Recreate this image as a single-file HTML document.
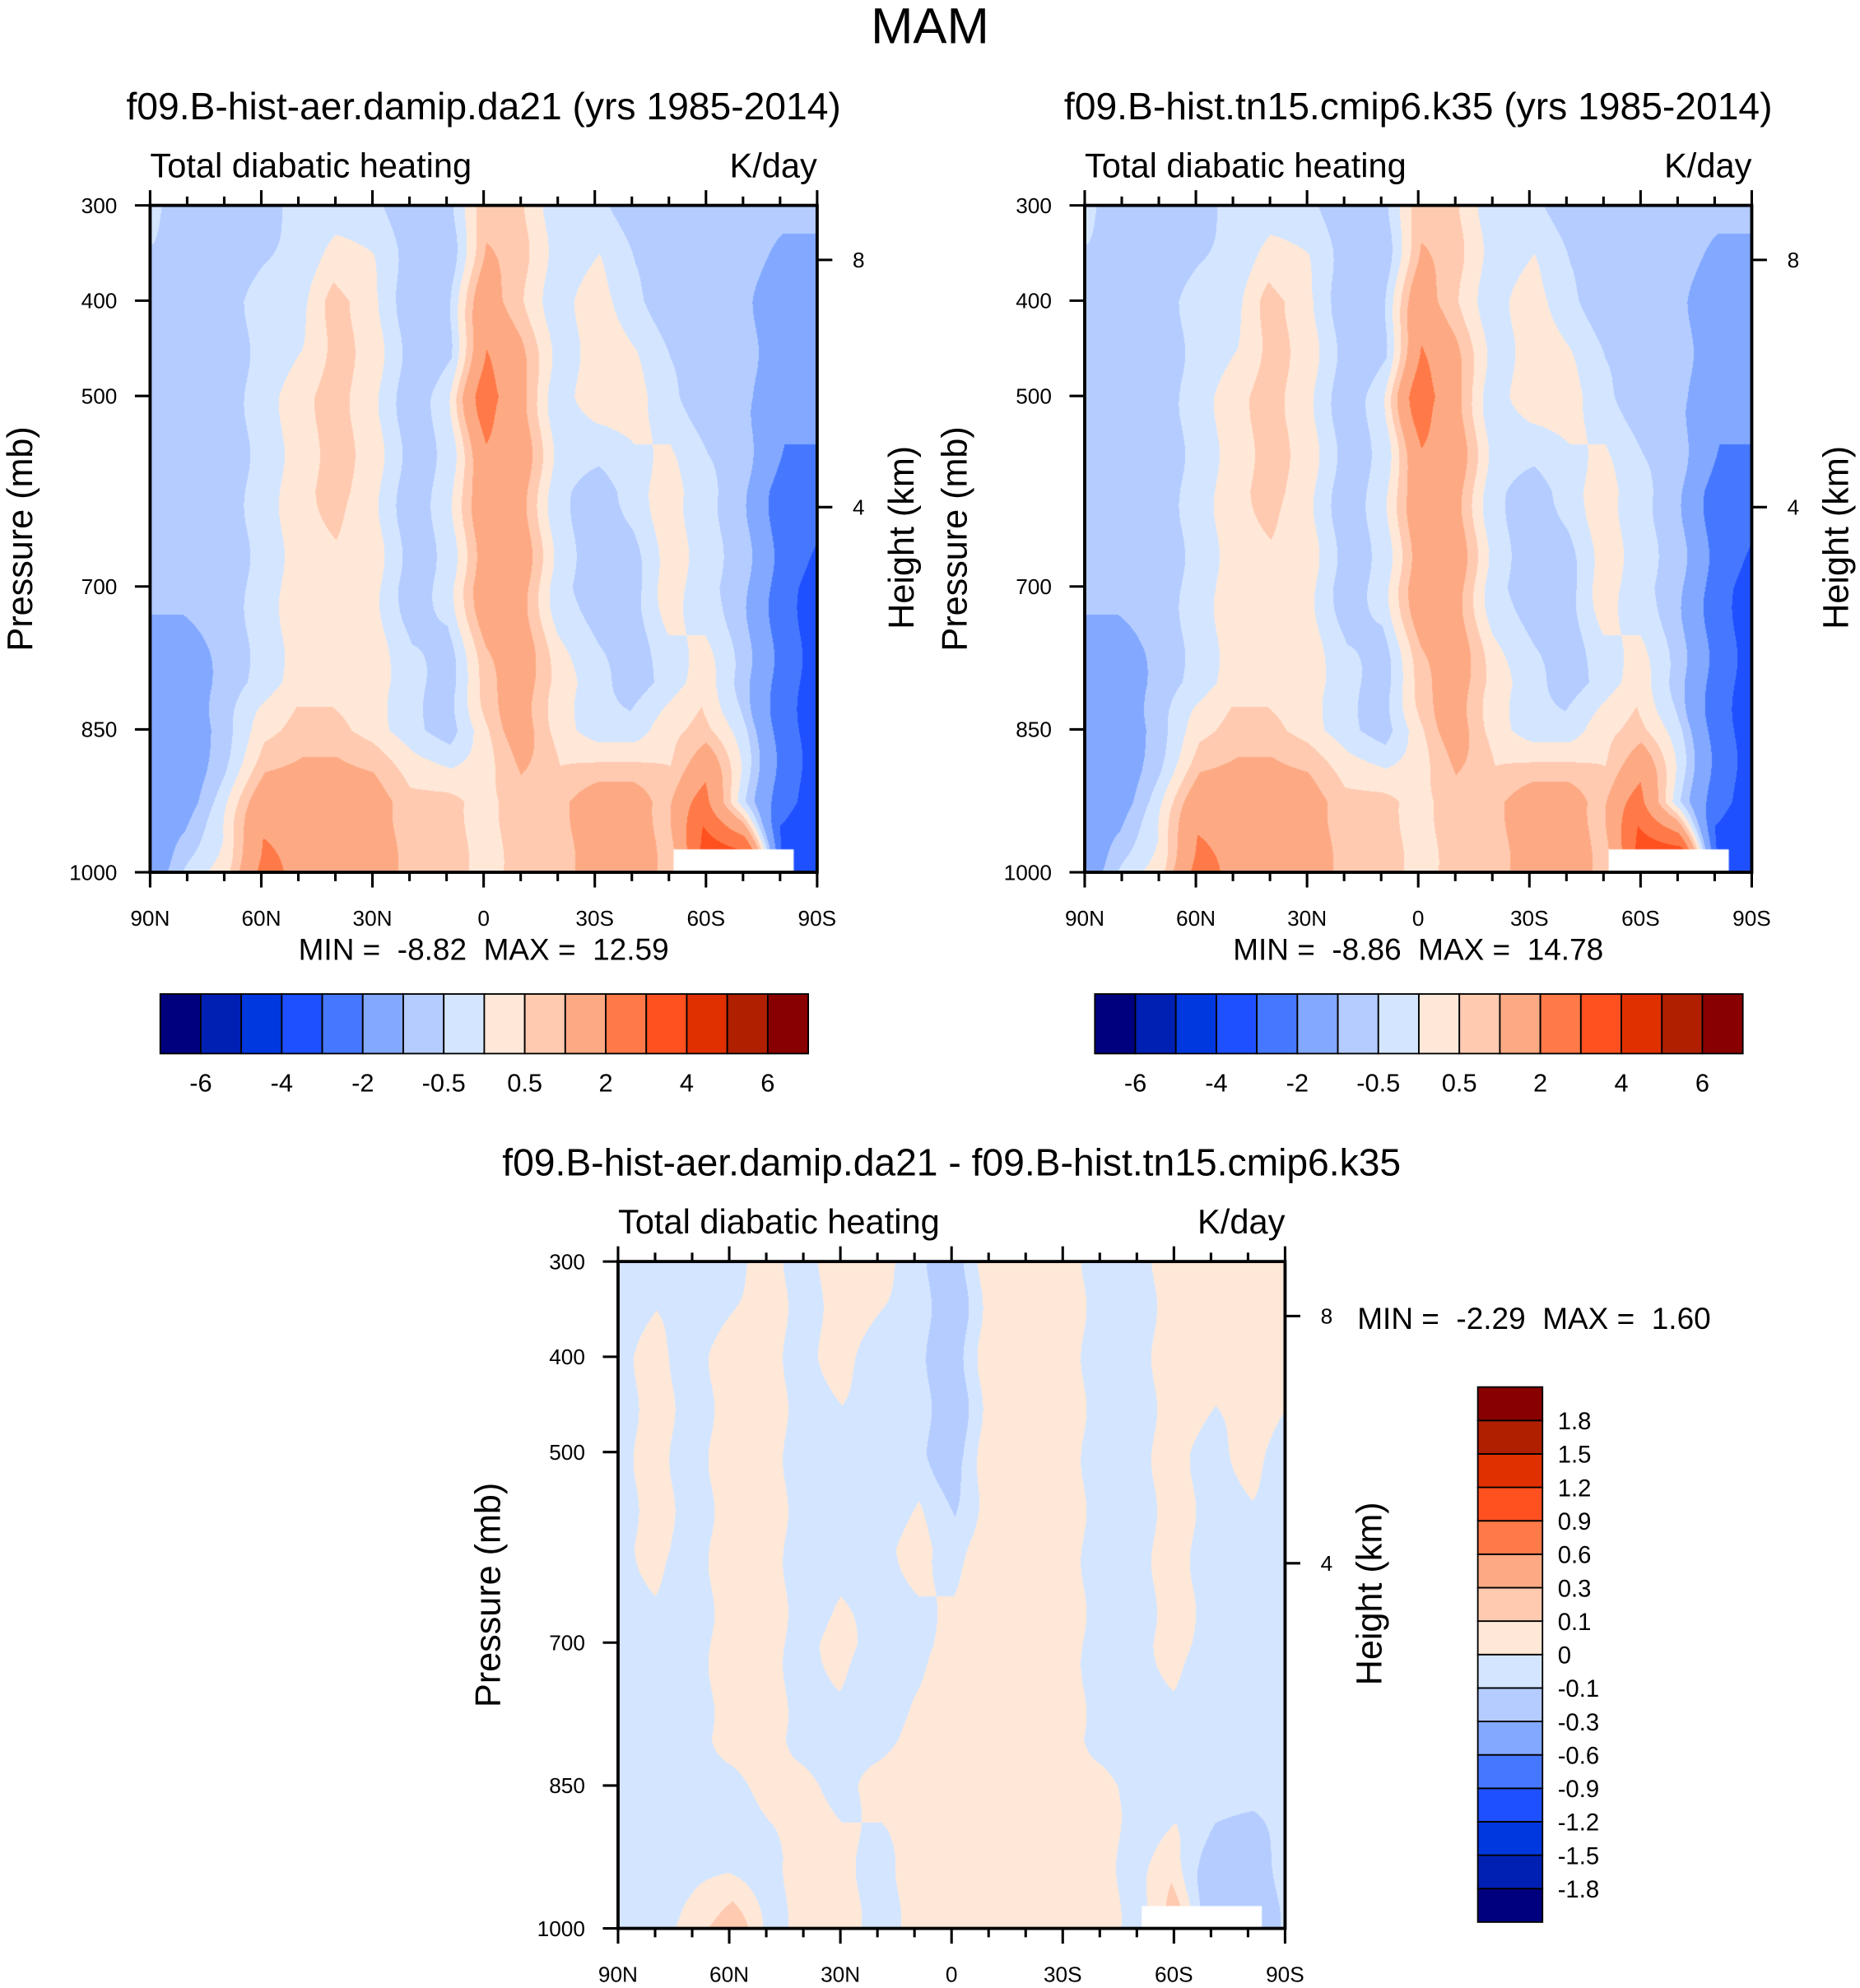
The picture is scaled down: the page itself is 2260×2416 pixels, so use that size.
<!DOCTYPE html>
<html><head><meta charset="utf-8">
<style>
html,body{margin:0;padding:0;background:#fff;}
#wrap{position:relative;width:2260px;height:2416px;overflow:hidden;}
canvas,svg{position:absolute;left:0;top:0;}
text{font-family:"Liberation Sans",Helvetica,Arial,sans-serif;fill:#000;white-space:pre;}
</style></head>
<body>
<div id="wrap">
<canvas id="cv" width="2260" height="2416"></canvas>
<svg id="sv" width="2260" height="2416" viewBox="0 0 1466 1568">
<text x="733" y="34" font-size="40" text-anchor="middle">MAM</text>
<text x="381" y="94" font-size="30" text-anchor="middle">f09.B-hist-aer.damip.da21 (yrs 1985-2014)</text>
<text x="1118" y="94" font-size="30" text-anchor="middle">f09.B-hist.tn15.cmip6.k35 (yrs 1985-2014)</text>
<text x="750" y="927" font-size="30" text-anchor="middle">f09.B-hist-aer.damip.da21 - f09.B-hist.tn15.cmip6.k35</text>
<g id="axes"></g>
</svg>
</div>
<script>
const lats=[90,80,70,60,50,40,30,20,10,0,-10,-20,-30,-40,-50,-60,-70,-80,-90];
const levs=[300,400,500,600,700,800,850,925,1000];
const field1=[
[-0.3,-0.8,-0.8,-0.8,-0.3,-0.3,-0.3,-0.8,-0.8,0.7,0.7,-0.3,-0.3,-0.8,-0.8,-0.8,-0.8,-0.8,-0.8],
[-0.8,-0.8,-0.8,-0.3,-0.3,0.7,0.3,-0.8,-0.8,1.5,0.7,-0.3,0.3,-0.3,-0.8,-0.8,-0.8,-1.5,-1.5],
[-0.8,-0.8,-0.8,-0.3,0.3,0.7,0.3,-0.8,-0.3,2.5,1.5,-0.3,0.3,0.3,-0.3,-0.8,-0.8,-1.5,-1.5],
[-0.8,-0.8,-0.8,-0.3,0.3,0.7,0.3,-0.8,-0.3,1.5,1.5,-0.3,-0.8,-0.3,0.3,-0.3,-0.8,-2.5,-2.5],
[-0.8,-0.8,-0.8,-0.3,0.3,0.3,0.3,-0.8,-0.3,1.5,1.5,-0.3,-0.8,-0.8,0.3,-0.3,-0.8,-2.5,-3.5],
[-1.5,-1.5,-0.8,-0.3,0.3,0.3,0.3,-0.3,-0.8,0.7,1.5,0.3,-0.3,-0.8,-0.3,0.3,-0.8,-2.5,-3.5],
[-1.5,-1.5,-0.8,0.3,0.7,0.7,0.3,-0.3,-0.8,0.3,1.5,0.3,-0.3,-0.3,0.3,0.7,-0.3,-2.5,-3.5],
[-1.5,-1.5,-0.3,1.5,1.5,1.5,1.5,0.7,0.7,0.3,0.7,0.7,1.5,1.5,0.7,2.5,-0.3,-2.5,-3.5],
[-1.5,-0.3,0.3,2.5,1.5,1.5,1.5,0.7,0.7,0.3,0.7,0.7,1.5,1.5,0.7,4,4.5,-4,-4]];
const field2=[
[-0.3,-0.8,-0.8,-0.8,-0.3,-0.3,-0.3,-0.8,-0.8,0.7,0.7,-0.3,-0.3,-0.8,-0.8,-0.8,-0.8,-0.8,-0.8],
[-0.8,-0.8,-0.8,-0.3,-0.3,0.7,0.3,-0.8,-0.8,1.5,0.7,-0.3,0.3,-0.3,-0.8,-0.8,-0.8,-1.5,-1.5],
[-0.8,-0.8,-0.8,-0.3,0.3,0.7,0.3,-0.8,-0.3,2.6,1.5,-0.3,0.3,0.3,-0.3,-0.8,-0.8,-1.5,-1.5],
[-0.8,-0.8,-0.8,-0.3,0.3,0.7,0.3,-0.8,-0.3,1.5,1.5,-0.3,-0.8,-0.3,0.3,-0.3,-0.8,-2.5,-2.5],
[-0.8,-0.8,-0.8,-0.3,0.3,0.3,0.3,-0.8,-0.3,1.5,1.5,-0.3,-0.8,-0.8,0.3,-0.3,-0.8,-2.5,-3.5],
[-1.5,-1.5,-0.8,-0.3,0.3,0.3,0.3,-0.3,-0.8,0.7,1.5,0.3,-0.3,-0.8,-0.3,0.3,-0.8,-2.5,-3.5],
[-1.5,-1.5,-0.8,0.3,0.7,0.7,0.3,-0.3,-0.8,0.3,1.5,0.3,-0.3,-0.3,0.3,0.7,-0.3,-2.5,-3.5],
[-1.5,-1.5,-0.3,1.5,1.5,1.5,1.5,0.7,0.7,0.3,0.7,0.7,1.5,1.5,0.7,2.5,-0.3,-2.5,-3.5],
[-1.5,-0.3,0.3,2.6,1.5,1.5,1.5,0.7,0.7,0.3,0.7,0.7,1.5,1.5,0.7,4,5,-4,-4]];
const field3=[
[-.05,-.05,-.05,-.05,.05,-.05,.05,.05,-.05,-.2,.05,.05,.05,-.05,-.05,.05,.05,.05,.05],
[-.05,.05,-.05,.05,.05,-.05,.05,-.05,-.05,-.2,.05,.05,.05,-.05,-.05,.05,.05,.05,.05],
[-.05,.05,-.05,.05,.05,-.05,-.05,-.05,-.05,-.2,.05,.05,.05,-.05,-.05,.05,-.05,.05,-.05],
[-.05,.05,-.05,.05,.05,-.05,-.05,-.05,.05,-.05,.05,.05,.05,-.05,-.05,.05,-.05,-.05,-.05],
[-.05,-.05,-.05,.05,.05,-.05,.05,-.05,-.05,.05,.05,.05,.05,-.05,-.05,.05,-.05,-.05,-.05],
[-.05,-.05,-.05,.05,.05,-.05,-.05,-.05,.05,.05,.05,.05,.05,-.05,-.05,-.05,-.05,-.05,-.05],
[-.05,-.05,-.05,-.05,.05,.05,-.05,.05,.05,.05,.05,.05,.05,.05,-.05,-.05,-.05,-.05,-.05],
[-.05,-.05,-.05,-.05,-.05,.05,.05,-.05,.05,.05,.05,.05,.05,.05,-.05,.05,-.15,-.2,-.05],
[-.05,-.05,.05,.2,-.05,.05,.05,-.05,.05,.05,.05,.05,.05,.05,-.05,.2,-.3,-.3,-.05]];
const colors=["#00007f","#0020b4","#0038e0","#1e50ff","#4678ff","#82a8ff","#b4ccff","#d4e6ff","#ffe8d8","#ffcab0","#fdaa84","#ff7a48","#ff5020","#e03000","#b02000","#880000"];
const levels1=[-6,-5,-4,-3,-2,-1,-0.5,0,0.5,1,2,3,4,5,6];
const cbLabels1=["-6","-4","-2","-0.5","0.5","2","4","6"];
const levels3=[-1.8,-1.5,-1.2,-0.9,-0.6,-0.3,-0.1,0,0.1,0.3,0.6,0.9,1.2,1.5,1.8];
const cbLabels3=["-1.8","-1.5","-1.2","-0.9","-0.6","-0.3","-0.1","0","0.1","0.3","0.6","0.9","1.2","1.5","1.8"];
const pTicks=[300,400,500,700,850,1000];
const latTicks=["90N","60N","30N","0","30S","60S","90S"];
const stats1=["-8.82","12.59"],stats2=["-8.86","14.78"],stats3=["-2.29","1.60"];

const S=2260/1466;
const NS="http://www.w3.org/2000/svg";
const G=document.getElementById('axes');
function el(tag,attrs,parent){const e=document.createElementNS(NS,tag);for(const k in attrs)e.setAttribute(k,attrs[k]);(parent||G).appendChild(e);return e;}
function hexRgb(h){return [parseInt(h.substr(1,2),16),parseInt(h.substr(3,2),16),parseInt(h.substr(5,2),16)];}
const rgb=colors.map(hexRgb);
function cls(v,lv){let i=0;while(i<lv.length&&v>=lv[i])i++;return i;}
function sample(f,lat,p){
  lat=Math.max(-90,Math.min(90,lat));
  let fi=(90-lat)/10; let i0=Math.max(0,Math.min(Math.floor(fi),17)); let tx=fi-i0;
  let j0=0; while(j0<levs.length-2&&p>levs[j0+1])j0++;
  let ty=(p-levs[j0])/(levs[j0+1]-levs[j0]); ty=Math.max(0,Math.min(1,ty));
  const a=f[j0][i0],b=f[j0][i0+1],c=f[j0+1][i0],d=f[j0+1][i0+1];
  return a*(1-tx)*(1-ty)+b*tx*(1-ty)+c*(1-tx)*ty+d*tx*ty;
}
const ctx=document.getElementById('cv').getContext('2d');
function drawField(f,lv,x0,y0,w,h,gap){
  const X0=Math.round(x0*S),Y0=Math.round(y0*S),W=Math.round(w*S),H=Math.round(h*S);
  const img=ctx.createImageData(W,H);
  for(let py=0;py<H;py++){const p=300+700*py/H;
    for(let px=0;px<W;px++){const lat=90-180*px/W;
      const v=sample(f,lat+0.8*Math.sin(p/17)+0.5*Math.sin(lat/7),p);
      const c=rgb[cls(v,lv)];const k=(py*W+px)*4;
      img.data[k]=c[0];img.data[k+1]=c[1];img.data[k+2]=c[2];img.data[k+3]=255;}}
  ctx.putImageData(img,X0,Y0);
  ctx.fillStyle="#fff";
  ctx.fillRect((x0+w*0.785)*S,(y0+h*0.965)*S,w*gap*S,h*0.04*S);
}
function panel(f,lv,x0,y0,w,h,title,stats,statsPos,name,gap){
  drawField(f,lv,x0,y0,w,h,gap);
  const g=el('g',{});
  el('rect',{x:x0,y:y0,width:w,height:h,fill:'none',stroke:'#000','stroke-width':2.5},g);
  el('text',{x:x0,y:y0-22,'font-size':27},g).textContent=title;
  el('text',{x:x0+w,y:y0-22,'font-size':27,'text-anchor':'end'},g).textContent="K/day";
  for(let k=0;k<=18;k++){const x=x0+w*k/18;const maj=k%3==0;const L=maj?12:7;
    el('line',{x1:x,x2:x,y1:y0,y2:y0-L,stroke:'#000','stroke-width':2},g);
    el('line',{x1:x,x2:x,y1:y0+h,y2:y0+h+L,stroke:'#000','stroke-width':2},g);}
  latTicks.forEach((t,i)=>{const tx=el('text',{x:x0+w*i/6,y:y0+h+42,'font-size':17,'text-anchor':'middle'},g);tx.textContent=t;
    
    });
  pTicks.forEach(p=>{const y=y0+h*(p-300)/700;
    el('line',{x1:x0,x2:x0-12,y1:y,y2:y,stroke:'#000','stroke-width':2},g);
    const tx=el('text',{x:x0-26,y:y+6,'font-size':17,'text-anchor':'end'},g);tx.textContent=p;
    
    });
  [[8,43],[4,238]].forEach(([hk,dy])=>{const y=y0+dy;
    el('line',{x1:x0+w,x2:x0+w+12,y1:y,y2:y,stroke:'#000','stroke-width':2},g);
    el('text',{x:x0+w+28,y:y+6,'font-size':17},g).textContent=hk;});
  const yl=el('text',{transform:`translate(${x0-93},${y0+h/2}) rotate(-90)`,'font-size':28,'text-anchor':'middle'},g);yl.textContent="Pressure (mb)";
  const yr=el('text',{transform:`translate(${x0+w+76},${y0+h/2-1}) rotate(-90)`,'font-size':28,'text-anchor':'middle'},g);yr.textContent="Height (km)";
  const st=el('text',{x:statsPos[0],y:statsPos[1],'font-size':24,'text-anchor':statsPos[2]},g);
  st.textContent=`MIN =  ${stats[0]}  MAX =  ${stats[1]}`;
}
function hbar(x0,y0,w,h){
  const g=el('g',{});
  const bw=w/colors.length;
  colors.forEach((c,i)=>el('rect',{x:x0+i*bw,y:y0,width:bw,height:h,fill:c,stroke:'#000','stroke-width':1.2},g));
  cbLabels1.forEach((t,i)=>{const tx=el('text',{x:x0+bw*(1+2*i),y:y0+h+30,'font-size':20,'text-anchor':'middle'},g);tx.textContent=t;});
}
function vbar(x0,y0,w,h){
  const g=el('g',{});
  const bh=h/colors.length;
  colors.forEach((c,i)=>el('rect',{x:x0,y:y0+h-(i+1)*bh,width:w,height:bh,fill:c,stroke:'#000','stroke-width':1.2},g));
  cbLabels3.forEach((t,i)=>{const tx=el('text',{x:x0+w+12,y:y0+h-(i+1)*bh+7,'font-size':19},g);tx.textContent=t;});
}
panel(field1,levels1,118,162,526,526,"Total diabatic heating",stats1,[381,757,'middle'],'panel-aer',0.18);
panel(field2,levels1,855,162,526,526,"Total diabatic heating",stats2,[1118,757,'middle'],'panel-hist',0.18);
panel(field3,levels3,487,995,526,526,"Total diabatic heating",stats3,[1070,1048,'start'],'panel-diff',0.18);
hbar(126,784,511,47);
hbar(863,784,511,47);
vbar(1165,1094,51,422);
</script>
</body></html>
